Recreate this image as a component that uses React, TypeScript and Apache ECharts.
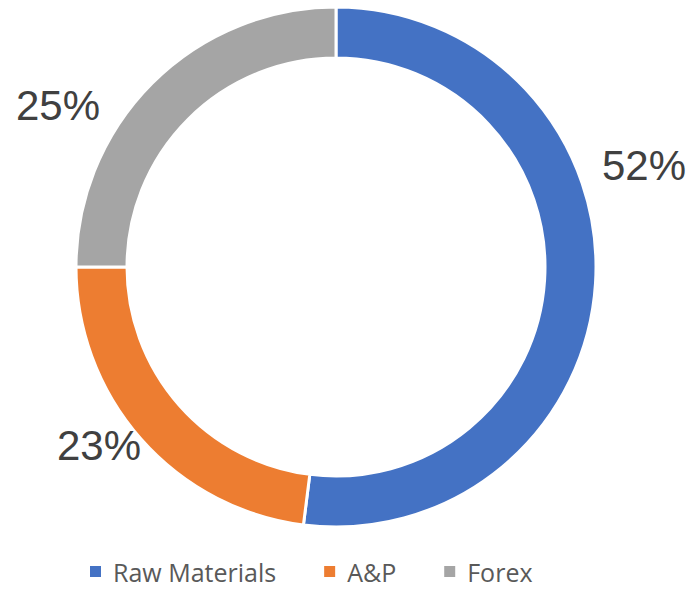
import React, { useEffect, useRef } from "react";
import * as echarts from "echarts";

const categories = ["Raw Materials", "A&P", "Forex"];
const values = [52, 23, 25];
const colors = ["#4472C4", "#ED7D31", "#A5A5A5"];
const labelPos = [
  [644, 165],
  [99, 445],
  [58, 105],
];

export default function App() {
  const ref = useRef<HTMLDivElement>(null);
  useEffect(() => {
    const chart = echarts.init(ref.current!, undefined, { renderer: "svg" });
    chart.setOption({
      animation: false,
      color: colors,
      legend: {
        bottom: 5,
        left: 88,
        padding: 0,
        itemWidth: 13,
        itemHeight: 13,
        itemGap: 46,
        icon: "rect",
        textStyle: { fontFamily: "Open Sans", fontSize: 25, lineHeight: 25, color: "#595959", padding: [0, 0, 0, 6] },
        data: categories,
      },
      series: [
        {
          type: "pie",
          center: [336, 267],
          radius: [209, 260],
          startAngle: 90,
          clockwise: true,
          itemStyle: { borderColor: "#ffffff", borderWidth: 3 },
          label: {
            show: true,
            position: "inside",
            overflow: "none",
            formatter: (p: any) => p.value + "%",
            fontFamily: "Liberation Sans",
            fontSize: 42,
            color: "#404040",
          },
          labelLine: { show: false },
          labelLayout: (params: any) => {
            const pos = labelPos[params.dataIndex];
            return { x: pos[0], y: pos[1], align: "center", verticalAlign: "middle" };
          },
          emphasis: { disabled: true },
          data: categories.map((c, i) => ({ name: c, value: values[i] })),
        },
      ],
    });
    return () => chart.dispose();
  }, []);
  return (
    <div
      ref={ref}
      style={{ position: "absolute", left: 0, top: 0, width: 689, height: 589 }}
    />
  );
}
